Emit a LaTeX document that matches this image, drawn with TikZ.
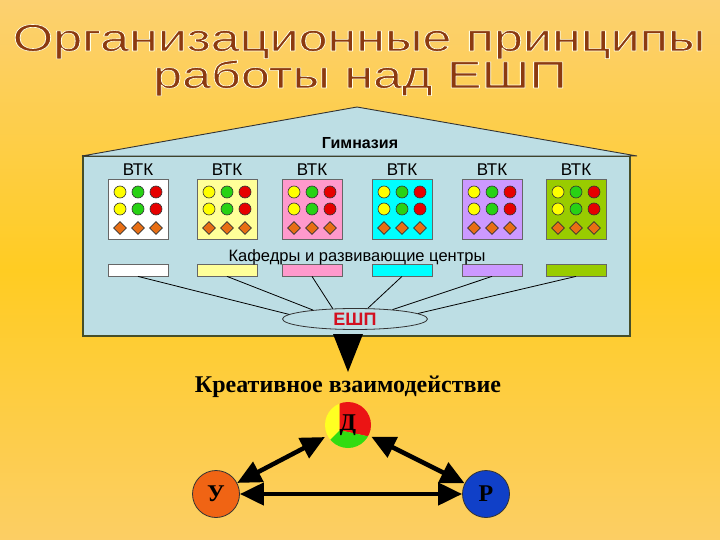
\documentclass[tikz,border=0pt]{standalone}
\usepackage{fontspec}
\setmainfont{Liberation Sans}
\newfontfamily\timesfont{Liberation Serif}
\usepackage{graphicx}
\usetikzlibrary{arrows.meta,shapes.geometric}

\definecolor{titlebrown}{RGB}{140,58,16}
\definecolor{housefill}{RGB}{189,222,228}
\definecolor{houseline}{RGB}{70,78,40}
\definecolor{bgtop}{RGB}{252,208,112}
\definecolor{bgmid}{RGB}{255,204,34}
\definecolor{bgbot}{RGB}{252,206,100}
\definecolor{dotyellow}{RGB}{255,255,0}
\definecolor{dotgreen}{RGB}{40,210,20}
\definecolor{dotred}{RGB}{230,0,0}
\definecolor{rhombfill}{RGB}{232,110,20}
\definecolor{boxyellow}{RGB}{255,255,153}
\definecolor{boxpink}{RGB}{255,153,204}
\definecolor{boxcyan}{RGB}{0,255,255}
\definecolor{boxlilac}{RGB}{204,153,255}
\definecolor{boxolive}{RGB}{153,204,0}
\definecolor{espred}{RGB}{210,16,32}
\definecolor{uorange}{RGB}{240,100,20}
\definecolor{rblue}{RGB}{16,64,200}
\definecolor{piered}{RGB}{235,20,20}
\definecolor{piegreen}{RGB}{50,220,17}
\definecolor{pieyellow}{RGB}{255,255,34}

% brown letters with a thin white rim
\newcommand{\rimtext}[1]{\special{pdf:literal q 2 Tr 0.6 w 1 1 0.9 RG 1 j}#1\special{pdf:literal Q}}

\tikzset{
	titletext/.style={text=titlebrown, anchor=base, inner sep=0pt, font=\fontsize{38}{42}\selectfont},
	vtkbox/.style={draw=black!60, line width=0.8pt, minimum width=60pt, minimum height=60pt, inner sep=0pt},
	bar/.style={draw=black!60, line width=0.8pt, minimum width=60pt, minimum height=12pt, inner sep=0pt},
	dot/.style={circle, draw=black!80, line width=0.6pt, minimum size=12pt, inner sep=0pt, fill=#1},
	rhomb/.style={diamond, draw=black!80, line width=0.6pt, minimum size=13pt, inner sep=0pt, fill=rhombfill},
	vtklabel/.style={anchor=base, font=\fontsize{17}{20}\selectfont},
	person/.style={circle, draw=black!80, line width=0.8pt, minimum size=47pt, inner sep=0pt,
		font=\timesfont\bfseries\fontsize{24}{28}\selectfont},
	link/.style={{Triangle[length=24pt,width=22pt]}-{Triangle[length=24pt,width=22pt]}, line width=4.5pt},
}

\begin{document}
\begin{tikzpicture}[x=1pt,y=-1pt]
	\useasboundingbox (0,0) rectangle (720,540);
	\shade[top color=bgtop, bottom color=bgbot, middle color=bgmid] (0,0) rectangle (720,540);

	% title
	\node[titletext]	(t1)	at (359,51)		{\scalebox{1.37}[1]{\rimtext{Организационные принципы}}};
	\node[titletext]	(t2)	at (360,88)		{\scalebox{1.37}[1]{\rimtext{работы над ЕШП}}};

	% house
	\filldraw[fill=housefill, draw=houseline, line width=1.8pt] (83,156) rectangle (630,336);
	\filldraw[fill=housefill, draw=black!80, line width=0.9pt] (82,156) -- (357,107) -- (637,156) -- cycle;
	\node[anchor=base, font=\bfseries\fontsize{16}{18}\selectfont]	(gym)	at (360,149)	{Гимназия};

	\foreach \x/\c [count=\i] in {138/white,227/boxyellow,312/boxpink,402/boxcyan,492/boxlilac,576/boxolive} {
		\node[vtklabel]			(l\i)	at (\x,176)		{ВТК};
		\node[vtkbox, fill=\c]	(v\i)	at (\x,209)		{};
		\foreach \dx/\dc [count=\j] in {-18/dotyellow,0/dotgreen,18/dotred} {
			\node[dot=\dc]		(p\i\j)	at (\x+\dx,192)	{};
			\node[dot=\dc]		(q\i\j)	at (\x+\dx,209)	{};
			\node[rhomb]		(k\i\j)	at (\x+\dx,228)	{};
		}
		\node[bar, fill=\c]		(b\i)	at (\x,270)		{};
	}

	\node[anchor=base, font=\fontsize{16.5}{18}\selectfont]	(kaf)	at (357,261)	{Кафедры и развивающие центры};

	\node[ellipse, draw=black!80, line width=0.8pt, fill=housefill, minimum width=145pt, minimum height=21pt,
		inner sep=0pt, text=espred, font=\bfseries\fontsize{18}{20}\selectfont]	(esp)	at (355,319)	{ЕШП};

	\foreach \i/\a in {1/176,2/168,3/155,4/40,5/14,6/5}
		\draw[line width=0.8pt] (b\i.south) -- (esp.\a);

	\fill (333,334) -- (363,334) -- (348,372) -- cycle;

	% interaction
	\node[anchor=base, font=\timesfont\bfseries\fontsize{24}{28}\selectfont]	(kv)	at (348,392)	{Креативное взаимодействие};

	\node[person, draw=none, minimum size=46pt, outer sep=3pt, path picture={
			\fill[pieyellow, shift={(path picture bounding box.center)}, y=1pt] (0,0) -- (-135:40) -- (-202.5:40) -- (90:40) -- cycle;
			\fill[piered, shift={(path picture bounding box.center)}, y=1pt] (0,0) -- (90:40) -- (39:40) -- (-12:40) -- cycle;
			\fill[piegreen, shift={(path picture bounding box.center)}, y=1pt] (0,0) -- (-12:40) -- (-73.5:40) -- (-135:40) -- cycle;
		}]						(d)		at (348,425)	{Д};
	\node[person, fill=uorange]	(u)		at (216,494)	{У};
	\node[person, fill=rblue]	(r)		at (486,494)	{Р};

	\path[link]	(u)	edge	(d)
				(d)	edge	(r)
				(u)	edge	(r);
\end{tikzpicture}
\end{document}
